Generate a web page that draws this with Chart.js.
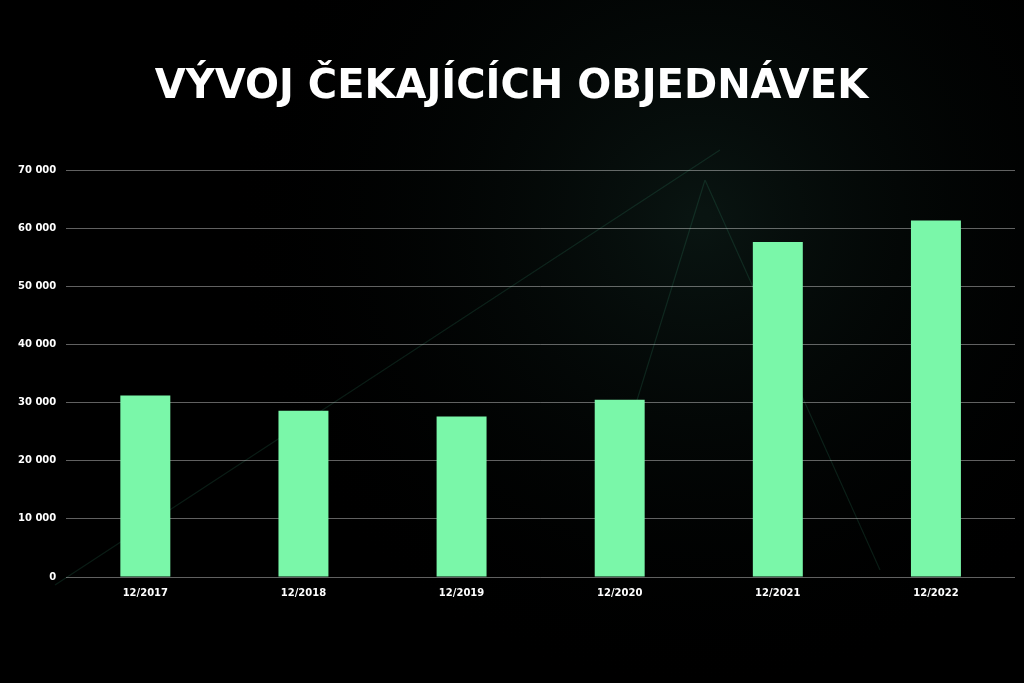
<!DOCTYPE html>
<html>
<head>
<meta charset="utf-8">
<script src="https://cdn.jsdelivr.net/npm/chart.js@4/dist/chart.umd.min.js"></script>
<style>
  html, body { margin: 0; padding: 0; background: #000; }
  #wrap { width: 1024px; height: 683px; position: relative; }
</style>
</head>
<body>
<div id="wrap"><canvas id="c" width="1024" height="683"></canvas></div>
<script>
const titleText = "VÝVOJ ČEKAJÍCÍCH OBJEDNÁVEK";
const years = ["12/2017", "12/2018", "12/2019", "12/2020", "12/2021", "12/2022"];
const orders = [31200, 28600, 27600, 30500, 57600, 61300];
const yMax = 70000;
const yStep = 10000;

const fmt = (v) => String(v).replace(/\B(?=(\d{3})+(?!\d))/g, " ");

// dark background with a few faint green streaks
const backdrop = {
  id: "backdrop",
  beforeDraw(chart) {
    const { ctx, width, height } = chart;
    ctx.save();
    ctx.fillStyle = "#000";
    ctx.fillRect(0, 0, width, height);
    const g = ctx.createRadialGradient(700, 220, 10, 700, 220, 480);
    g.addColorStop(0, "rgba(18,40,34,0.5)");
    g.addColorStop(1, "rgba(0,0,0,0)");
    ctx.fillStyle = g;
    ctx.fillRect(0, 0, width, height);
    ctx.strokeStyle = "rgba(70,200,150,0.14)";
    ctx.lineWidth = 1.2;
    ctx.beginPath();
    ctx.moveTo(55, 585);
    ctx.lineTo(720, 150);
    ctx.moveTo(705, 180);
    ctx.lineTo(880, 570);
    ctx.moveTo(705, 180);
    ctx.lineTo(600, 520);
    ctx.stroke();
    ctx.restore();
  },
};

new Chart(document.getElementById("c"), {
  type: "bar",
  data: {
    labels: years,
    datasets: [
      {
        data: orders,
        backgroundColor: "#7af7a9",
        barPercentage: 1,
        categoryPercentage: 0.316,
      },
    ],
  },
  options: {
    responsive: false,
    animation: false,
    devicePixelRatio: 1,
    layout: { padding: { left: 8, right: 9, top: 0, bottom: 82 } },
    plugins: {
      legend: { display: false },
      tooltip: { enabled: false },
      title: {
        display: true,
        text: titleText,
        color: "#fff",
        font: { family: "DejaVu Sans", weight: "bold", size: 40 },
        padding: { top: 64, bottom: 58 },
      },
    },
    scales: {
      x: {
        grid: { display: false },
        border: { display: false },
        ticks: {
          color: "#fff",
          font: { family: "DejaVu Sans", weight: "bold", size: 10 },
          padding: 2,
        },
      },
      y: {
        min: 0,
        max: yMax,
        grid: { color: "rgba(255,255,255,0.38)", lineWidth: 1, drawTicks: false },
        border: { display: false },
        ticks: {
          stepSize: yStep,
          color: "#fff",
          padding: 10,
          font: { family: "DejaVu Sans", weight: "bold", size: 10 },
          callback: (v) => fmt(v),
        },
      },
    },
  },
  plugins: [backdrop],
});
</script>
</body>
</html>
